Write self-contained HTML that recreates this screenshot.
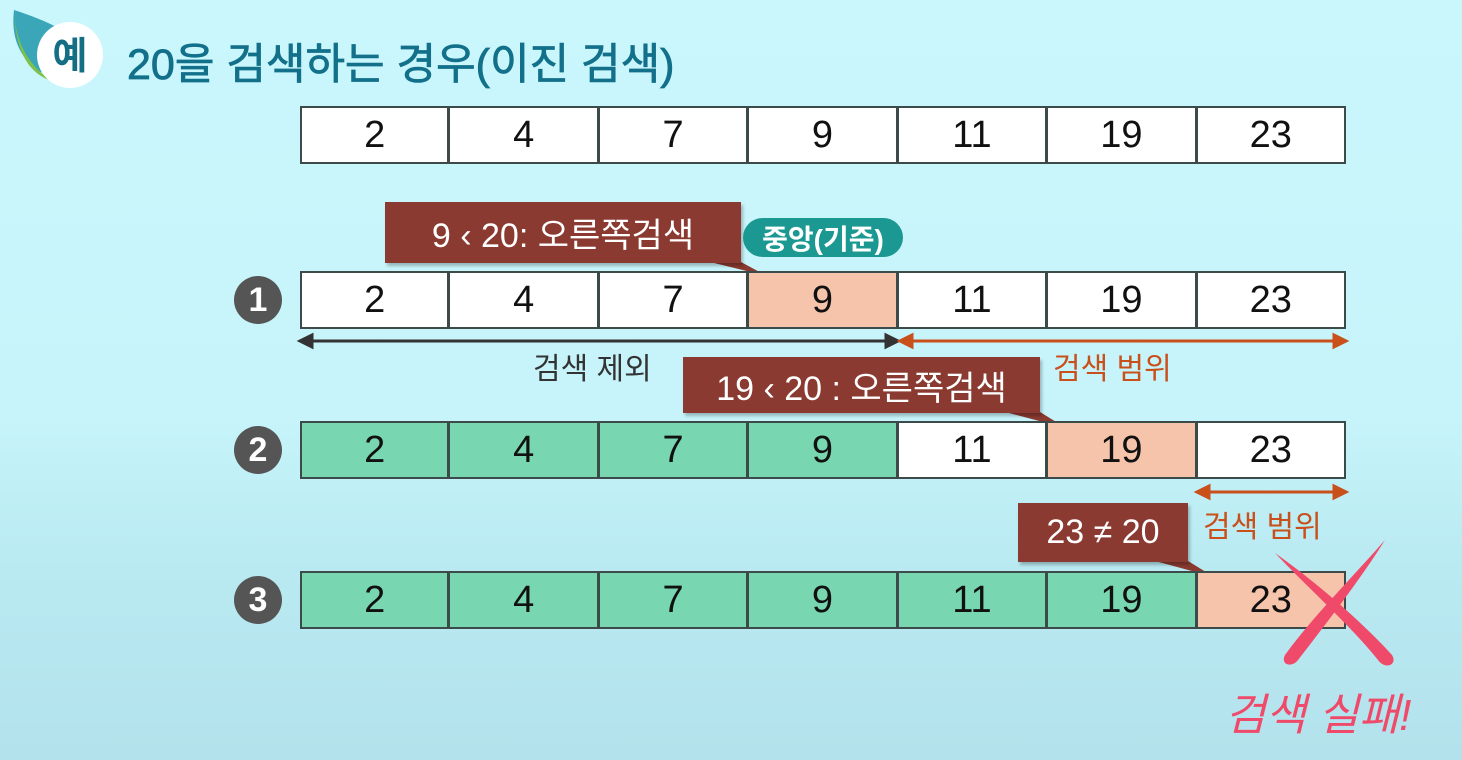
<!DOCTYPE html>
<html><head><meta charset="utf-8"><style>
body{margin:0;width:1462px;height:760px;overflow:hidden;font-family:"Liberation Sans","Noto Sans CJK KR",sans-serif;}
#bg{position:absolute;left:0;top:0;width:1462px;height:760px;background:linear-gradient(180deg,#c9f7fc 0%,#c6f4fa 55%,#b9e9f1 75%,#b3e2ec 100%);}
.abs{position:absolute;}
.cell{position:absolute;box-sizing:border-box;border:2px solid #3d4a4a;display:flex;align-items:center;justify-content:center;font-size:38px;color:#111;}
.num{position:absolute;width:48px;height:48px;border-radius:50%;background:#555;color:#fff;font-size:34px;font-weight:bold;display:flex;align-items:center;justify-content:center;}
.call{position:absolute;background:#8a3a30;color:#fff;font-size:34px;display:flex;align-items:center;justify-content:center;box-shadow:2px 3px 3px rgba(0,0,0,.25);}
</style></head><body>
<div id="bg"></div>
<svg class="abs" style="left:0;top:0" width="1462" height="760">
 <path d="M14 10 C45 20 80 35 95 58 C70 78 40 80 28 62 C14 45 12 28 14 10Z" fill="#3aa6b8"/>
 <path d="M14 10 C15 40 28 68 55 82 C30 75 16 55 14 10Z" fill="#7cc24a"/>
 <circle cx="70" cy="55" r="33" fill="#fff"/>
 <text x="70" y="69" text-anchor="middle" font-size="38" font-weight="bold" fill="#146f84" font-family="Liberation Sans,Noto Sans CJK KR,sans-serif">예</text>
 <polygon points="710,262 741,262 767,276" fill="#8a3a30"/>
 <polygon points="1005,412 1040,412 1066,428" fill="#8a3a30"/>
 <polygon points="1155,561 1188,561 1214,577" fill="#8a3a30"/>
 <g stroke="#333" stroke-width="3" fill="#333">
  <line x1="306" y1="341" x2="892" y2="341"/><polygon points="300,341 312,335 312,347"/><polygon points="898,341 886,335 886,347"/></g>
 <g stroke="#c9501a" stroke-width="3" fill="#c9501a">
  <line x1="906" y1="341" x2="1340" y2="341"/><polygon points="900,341 912,335 912,347"/><polygon points="1346,341 1334,335 1334,347"/></g>
 <g stroke="#c9501a" stroke-width="3" fill="#c9501a">
  <line x1="1203" y1="492" x2="1340" y2="492"/><polygon points="1197,492 1209,486 1209,498"/><polygon points="1346,492 1334,486 1334,498"/></g>
</svg>
<div class="abs" style="left:127px;top:30px;font-size:43px;color:#13708a;-webkit-text-stroke:0.8px #13708a">20을 검색하는 경우(이진 검색)</div>
<div id="rows"></div>
<div class="num" style="left:234px;top:276px">1</div>
<div class="num" style="left:234px;top:426px">2</div>
<div class="num" style="left:234px;top:576px">3</div>
<div class="call" style="left:385px;top:202px;width:356px;height:61px">9 ‹ 20: 오른쪽검색</div>
<div class="abs" style="left:743px;top:218px;width:160px;height:39px;border-radius:20px;background:#1b9892;color:#fff;font-size:28px;font-weight:bold;display:flex;align-items:center;justify-content:center">중앙(기준)</div>
<div class="abs" style="left:533px;top:344px;font-size:30px;color:#333">검색 제외</div>
<div class="abs" style="left:1053px;top:344px;font-size:30px;color:#c9501a">검색 범위</div>
<div class="call" style="left:683px;top:357px;width:357px;height:56px">19 ‹ 20 : 오른쪽검색</div>
<div class="abs" style="left:1203px;top:502px;font-size:30px;color:#c9501a">검색 범위</div>
<div class="call" style="left:1018px;top:503px;width:170px;height:59px">23 ≠ 20</div>
<svg class="abs" style="left:0;top:0" width="1462" height="760">
 <path d="M1385 540 C1350 580 1310 620 1285 655 C1280 665 1292 668 1298 660 C1325 625 1360 580 1385 540Z" fill="#f04a6a"/>
 <path d="M1275 553 C1320 585 1365 625 1392 655 C1398 665 1385 670 1378 660 C1350 625 1310 590 1275 553Z" fill="#f04a6a"/>
 <text x="1225" y="730" font-size="44" fill="#f04a6a" font-style="italic" font-family="Liberation Sans,Noto Sans CJK KR,sans-serif">검색 실패!</text>
</svg>
<script>
const values=[2,4,7,9,11,19,23];
const rowTops=[106,271,421,571];
const rowStates=[
 ['w','w','w','w','w','w','w'],
 ['w','w','w','p','w','w','w'],
 ['g','g','g','g','w','p','w'],
 ['g','g','g','g','g','g','p']];
const colors={w:'#ffffff',p:'#f6c4aa',g:'#78d6b0'};
const x0=300,cw=1046/7,ch=58;
const rows=document.getElementById('rows');
rowStates.forEach((st,r)=>{
 values.forEach((v,i)=>{
  const d=document.createElement('div');
  d.className='cell';
  
  
  d.style.left=(x0+i*cw-(i?1:0))+'px';
  d.style.top=rowTops[r]+'px';
  d.style.width=(cw+(i?1:0))+'px';
  d.style.height=ch+'px';
  d.style.background=colors[st[i]];
  d.textContent=v;
  rows.appendChild(d);
 });
});
</script>
</body></html>
